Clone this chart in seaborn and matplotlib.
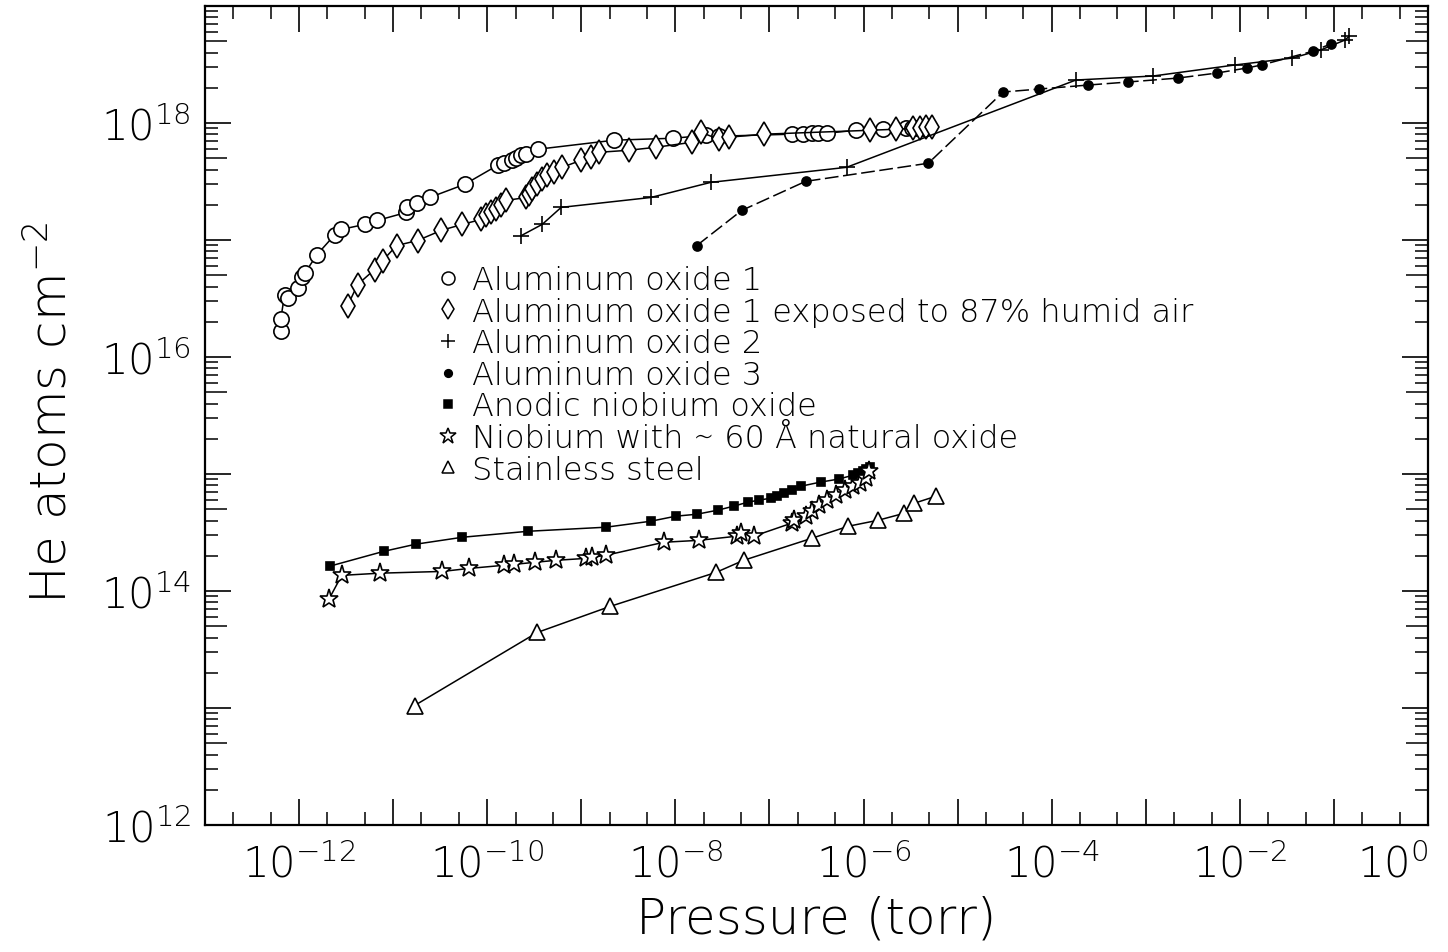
import matplotlib
matplotlib.use("Agg")
import matplotlib.pyplot as plt
import matplotlib.ticker as mticker
from matplotlib.lines import Line2D
from matplotlib import font_manager
import numpy as np
import seaborn as sns

# ---------------- data ----------------
al1_p = [6.4e-13, 6.4e-13, 7.0e-13, 7.6e-13, 9.7e-13, 1.07e-12, 1.15e-12, 1.55e-12,
         2.4e-12, 2.8e-12, 5.0e-12, 6.8e-12, 1.38e-11, 1.41e-11, 1.78e-11, 2.45e-11,
         5.75e-11, 1.29e-10, 1.51e-10, 1.82e-10, 2.04e-10, 2.29e-10, 2.60e-10, 3.47e-10,
         2.24e-9, 9.5e-9, 2.14e-8, 2.88e-8, 1.72e-7, 2.29e-7, 2.82e-7, 3.31e-7, 4.07e-7,
         8.4e-7, 1.62e-6, 2.85e-6, 3.24e-6, 3.55e-6, 3.98e-6, 4.3e-6]
al1_n = [1.67e16, 2.12e16, 3.4e16, 3.2e16, 3.9e16, 4.8e16, 5.2e16, 7.5e16,
         1.11e17, 1.23e17, 1.36e17, 1.47e17, 1.72e17, 1.90e17, 2.06e17, 2.31e17,
         2.99e17, 4.35e17, 4.53e17, 4.80e17, 4.99e17, 5.30e17, 5.41e17, 5.97e17,
         7.13e17, 7.41e17, 7.85e17, 7.71e17, 8.02e17, 8.02e17, 8.18e17, 8.18e17, 8.18e17,
         8.67e17, 8.85e17, 9.0e17, 9.0e17, 9.0e17, 9.0e17, 9.0e17]

al1h_p = [3.28e-12, 4.19e-12, 6.35e-12, 7.73e-12, 1.09e-11, 1.82e-11, 3.26e-11, 5.45e-11,
          8.65e-11, 9.8e-11, 1.10e-10, 1.25e-10, 1.41e-10, 1.60e-10, 2.60e-10, 2.79e-10,
          3.0e-10, 3.4e-10, 3.84e-10, 4.34e-10, 5.15e-10, 6.25e-10, 9.95e-10, 1.27e-9,
          1.55e-9, 3.21e-9, 6.2e-9, 1.50e-8, 1.86e-8, 2.89e-8, 3.69e-8, 8.67e-8,
          1.18e-6, 2.23e-6, 3.39e-6, 4.0e-6, 4.65e-6, 5.37e-6]
al1h_n = [2.75e16, 4.16e16, 5.59e16, 6.67e16, 8.97e16, 9.9e16, 1.21e17, 1.36e17,
          1.50e17, 1.62e17, 1.72e17, 1.83e17, 1.98e17, 2.18e17, 2.31e17, 2.45e17,
          2.71e17, 2.99e17, 3.30e17, 3.57e17, 3.79e17, 4.18e17, 4.80e17, 5.09e17,
          5.62e17, 5.85e17, 6.2e17, 6.84e17, 8.34e17, 7.26e17, 7.56e17, 8.02e17,
          8.67e17, 8.85e17, 9.0e17, 9.0e17, 9.2e17, 9.2e17]

al2_p = [2.30e-10, 3.84e-10, 6.11e-10, 5.5e-9, 2.38e-8, 6.6e-7, 1.81e-4, 1.19e-3,
         8.8e-3, 3.62e-2, 7.2e-2, 0.132, 0.146]
al2_n = [1.09e17, 1.36e17, 1.90e17, 2.31e17, 3.11e17, 4.18e17, 2.33e18, 2.52e18,
         3.13e18, 3.59e18, 4.2e18, 5.13e18, 5.54e18]

al3_p = [1.69e-8, 5.07e-8, 2.42e-7, 4.88e-6, 3.05e-5, 7.3e-5, 2.43e-4, 6.44e-4,
         2.18e-3, 5.66e-3, 1.18e-2, 1.70e-2, 6.05e-2, 9.2e-2]
al3_n = [8.97e16, 1.79e17, 3.17e17, 4.53e17, 1.84e18, 1.95e18, 2.11e18, 2.24e18,
         2.42e18, 2.67e18, 2.95e18, 3.13e18, 4.12e18, 4.73e18]

nbox_p = [2.12e-12, 7.9e-12, 1.73e-11, 5.45e-11, 2.73e-10, 1.83e-9, 5.5e-9, 1.01e-8,
          1.69e-8, 2.83e-8, 4.17e-8, 5.87e-8, 7.67e-8, 1.03e-7, 1.19e-7, 1.42e-7,
          1.72e-7, 2.19e-7, 3.49e-7, 5.42e-7, 7.82e-7, 8.83e-7, 9.98e-7, 1.07e-6, 1.18e-6]
nbox_n = [1.63e14, 2.18e14, 2.51e14, 2.88e14, 3.24e14, 3.51e14, 3.95e14, 4.36e14,
          4.53e14, 4.91e14, 5.31e14, 5.74e14, 5.97e14, 6.21e14, 6.47e14, 6.86e14,
          7.28e14, 7.88e14, 8.53e14, 9.04e14, 9.79e14, 1.02e15, 1.06e15, 1.10e15, 1.15e15]

nb_p = [2.07e-12, 2.84e-12, 7.18e-12, 3.34e-11, 6.46e-11, 1.52e-10, 1.94e-10, 3.24e-10,
        5.41e-10, 1.12e-9, 1.30e-9, 1.83e-9, 7.55e-9, 1.77e-8, 4.49e-8, 4.95e-8, 6.79e-8,
        1.72e-7, 1.81e-7, 2.42e-7, 2.81e-7, 3.33e-7, 4.05e-7, 5.04e-7, 6.43e-7, 7.82e-7,
        9.27e-7, 1.05e-6, 1.13e-6]
nb_n = [8.47e13, 1.36e14, 1.42e14, 1.47e14, 1.56e14, 1.66e14, 1.69e14, 1.76e14,
        1.83e14, 1.90e14, 1.94e14, 2.02e14, 2.61e14, 2.71e14, 2.94e14, 3.12e14, 2.94e14,
        3.80e14, 4.03e14, 4.36e14, 4.81e14, 5.42e14, 5.97e14, 6.59e14, 7.28e14, 7.88e14,
        8.36e14, 9.22e14, 1.06e15]

ss_p = [1.69e-11, 3.40e-10, 2.02e-9, 2.69e-8, 5.32e-8, 2.81e-7, 6.92e-7, 1.44e-6,
        2.72e-6, 3.47e-6, 5.93e-6]
ss_n = [1.05e13, 4.42e13, 7.38e13, 1.44e14, 1.83e14, 2.82e14, 3.58e14, 4.03e14,
        4.62e14, 5.63e14, 6.47e14]

labels = ["Aluminum oxide 1",
          "Aluminum oxide 1 exposed to 87% humid air",
          "Aluminum oxide 2",
          "Aluminum oxide 3",
          "Anodic niobium oxide",
          "Niobium with \u223c 60 \u00c5 natural oxide",
          "Stainless steel"]

x_major = [1e-13, 1e-12, 1e-11, 1e-10, 1e-9, 1e-8, 1e-7, 1e-6, 1e-5, 1e-4, 1e-3, 1e-2, 1e-1, 1e0]
y_major = [1e12, 1e13, 1e14, 1e15, 1e16, 1e17, 1e18, 1e19]
y_medium = [5e12, 5e13, 5e14, 5e15, 5e16, 5e17, 5e18]

# ---------------- style ----------------
sns.set_theme(style="white")
plt.rcParams["font.family"] = ["DejaVu Sans"]

# thin strokes like the original plotter font, if the light face is installed
has_light = any(("DejaVu Sans" == f.name and f.weight in (200, "extra light", "ultralight"))
                or ("ExtraLight" in f.fname and "DejaVuSans" in f.fname)
                for f in font_manager.fontManager.ttflist)
WEIGHT = 200 if has_light else "normal"
if has_light:
    plt.rcParams["mathtext.fontset"] = "custom"
    plt.rcParams["mathtext.rm"] = "DejaVu Sans:weight=200"
    plt.rcParams["mathtext.it"] = "DejaVu Sans:weight=200"
    plt.rcParams["mathtext.bf"] = "DejaVu Sans:weight=200"
else:
    plt.rcParams["mathtext.fontset"] = "dejavusans"

W, H = 1448, 953
fig = plt.figure(figsize=(W / 100, H / 100), dpi=100)
ax = fig.add_axes([205 / W, 1 - 826 / H, (1428 - 205) / W, (826 - 7) / H])
ax.set_xscale("log")
ax.set_yscale("log")

styles = [
    dict(x=al1_p, y=al1_n, marker="o", ms=11, mfc="white", ls="-"),
    dict(x=al1h_p, y=al1h_n, marker="d", ms=12.5, mfc="white", ls="-"),
    dict(x=al2_p, y=al2_n, marker="+", ms=12, mfc="none", ls="-"),
    dict(x=al3_p, y=al3_n, marker="o", ms=6.5, mfc="black", ls=(0, (9, 3))),
    dict(x=nbox_p, y=nbox_n, marker="s", ms=6, mfc="black", ls="-"),
    dict(x=nb_p, y=nb_n, marker="*", ms=14, mfc="white", ls="-"),
    dict(x=ss_p, y=ss_n, marker="^", ms=11, mfc="white", ls="-"),
]

handles = []
for st, lab in zip(styles, labels):
    sns.lineplot(x=st["x"], y=st["y"], ax=ax, estimator=None, sort=False,
                 color="black", linewidth=1.1, linestyle=st["ls"],
                 marker=st["marker"], markersize=st["ms"],
                 markerfacecolor=st["mfc"], markeredgecolor="black",
                 markeredgewidth=1.2, legend=False)
    handles.append(Line2D([0], [0], linestyle="none", marker=st["marker"],
                          markersize=st["ms"] * 0.85, markerfacecolor=st["mfc"],
                          markeredgecolor="black", markeredgewidth=1.1))

ax.set_xlim(1e-13, 1e0)
ax.set_ylim(1e12, 1e19)


def even_fmt(v, pos):
    e = int(round(np.log10(v)))
    return r"$10^{%d}$" % e if e % 2 == 0 else ""


ax.xaxis.set_major_locator(mticker.FixedLocator(x_major))
ax.xaxis.set_major_formatter(mticker.FuncFormatter(even_fmt))
ax.xaxis.set_minor_locator(mticker.LogLocator(base=10, subs=(2, 5), numticks=40))
ax.xaxis.set_minor_formatter(mticker.NullFormatter())
ax.yaxis.set_major_locator(mticker.FixedLocator(y_major))
ax.yaxis.set_major_formatter(mticker.FuncFormatter(even_fmt))
ax.yaxis.set_minor_locator(mticker.LogLocator(base=10, subs=(2, 3, 4, 6, 7, 8, 9), numticks=40))
ax.yaxis.set_minor_formatter(mticker.NullFormatter())

# medium-length ticks at 5 x 10^n on the y axes (drawn on a twin axes)
ax2 = ax.twinx()
ax2.set_yscale("log")
ax2.set_ylim(1e12, 1e19)
ax2.yaxis.set_major_locator(mticker.FixedLocator(y_medium))
ax2.yaxis.set_minor_locator(mticker.NullLocator())
ax2.tick_params(axis="y", which="major", direction="in", length=16, width=1.1,
                left=True, right=True, labelleft=False, labelright=False, colors="black")
for sp in ax2.spines.values():
    sp.set_visible(False)

ax.tick_params(which="both", direction="in", top=True, right=True, bottom=True,
               left=True, colors="black")
ax.tick_params(which="major", length=19, width=1.2)
ax.tick_params(which="minor", length=9.5, width=1.1)
ax.tick_params(axis="x", which="major", labelsize=30, pad=13)
ax.tick_params(axis="y", which="major", labelsize=30, pad=10, labelleft=True,
               labelright=False)

for sp in ax.spines.values():
    sp.set_color("black")
    sp.set_linewidth(1.6)

# last x tick label sits right-aligned at the frame edge, as in the original
xt = ax.xaxis.get_major_ticks()
xt[-1].label1.set_horizontalalignment("right")

ax.set_xlabel("Pressure (torr)", fontsize=36, color="black", fontweight=WEIGHT)
ax.set_ylabel("He atoms cm$^{-2}$", fontsize=36, color="black", fontweight=WEIGHT)
ax.xaxis.set_label_coords(0.5, (826 - 896) / 819)
ax.yaxis.set_label_coords((76 - 205) / 1223, 0.505)

fig.legend(handles, labels, loc="upper left",
           bbox_to_anchor=(432 / W, 1 - 266 / H), bbox_transform=fig.transFigure,
           frameon=False, prop=dict(size=23, weight=WEIGHT), handlelength=1.0,
           handletextpad=0.25, labelspacing=0.05, borderpad=0, borderaxespad=0,
           labelcolor="black")

fig.savefig("out.png", dpi=100, facecolor="white")
